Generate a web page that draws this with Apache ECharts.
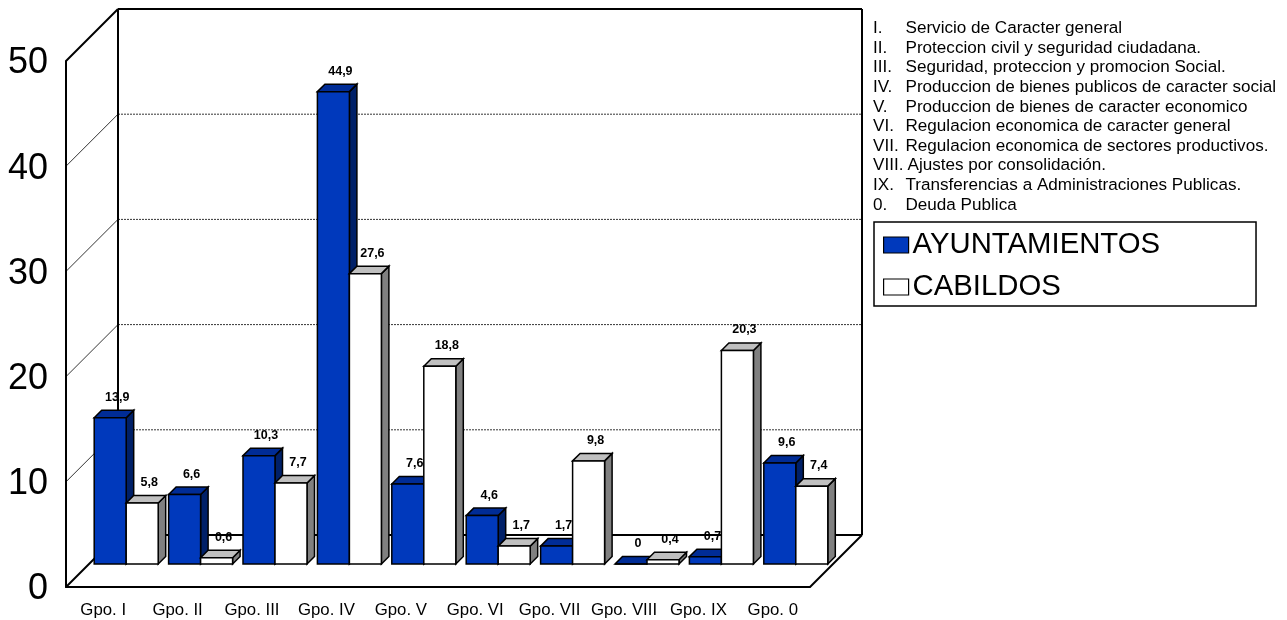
<!DOCTYPE html>
<html><head><meta charset="utf-8">
<style>html,body{margin:0;padding:0;background:#fff}#c{width:1287px;height:620px}</style>
<script src="https://cdn.jsdelivr.net/npm/echarts@6/dist/echarts.min.js"></script>
</head><body><div id="c"></div>
<script>
const categories = ['Gpo. I','Gpo. II','Gpo. III','Gpo. IV','Gpo. V','Gpo. VI','Gpo. VII','Gpo. VIII','Gpo. IX','Gpo. 0'];
const ayuntamientos = [13.9,6.6,10.3,44.9,7.6,4.6,1.7,0,0.7,9.6];
const cabildos = [5.8,0.6,7.7,27.6,18.8,1.7,9.8,0.4,20.3,7.4];
const yTicks = [0,10,20,30,40,50];
const numerals = ['I.','II.','III.','IV.','V.','VI.','VII.','VIII.','IX.','0.'];
const descriptions = [
  'Servicio de Caracter general',
  'Proteccion civil y seguridad ciudadana.',
  'Seguridad, proteccion y promocion Social.',
  'Produccion de bienes publicos de caracter social',
  'Produccion de bienes de caracter economico',
  'Regulacion economica de caracter general',
  'Regulacion economica de sectores productivos.',
  'Ajustes por consolidación.',
  'Transferencias a Administraciones Publicas.',
  'Deuda Publica'
];
const FONT = '"Liberation Sans", Arial, sans-serif';
const WALL = 52, BAR_DEPTH = 23, TOP = 7.5, BAR_W = 32;

function poly(points, fill, lw) {
  return {type:'polygon', shape:{points}, style:{fill, stroke:'#000', lineWidth:lw, lineJoin:'miter'}};
}
function line(a, b, lw, dash) {
  return {type:'line', shape:{x1:a[0],y1:a[1],x2:b[0],y2:b[1]}, style:{stroke:'#000', lineWidth:lw, lineDash:dash||null, fill:null}};
}
function barRender(side, front, top, dark) {
  return function(params, api) {
    const idx = api.value(0), v = api.value(1);
    const p = api.coord([idx, v]), base = api.coord([idx, 0]);
    const cx = p[0] + BAR_DEPTH;
    const x0 = side === 0 ? cx - BAR_W : cx, x1 = x0 + BAR_W;
    const yT = p[1] - BAR_DEPTH, yB = base[1] - BAR_DEPTH;
    return {type:'group', children:[
      poly([[x1,yB],[x1+TOP,yB-TOP],[x1+TOP,yT-TOP],[x1,yT]], dark, 1.5),
      poly([[x0,yT],[x0+TOP,yT-TOP],[x1+TOP,yT-TOP],[x1,yT]], top, 1.5),
      poly([[x0,yT],[x1,yT],[x1,yB],[x0,yB]], front, 1.5),
      {type:'text', x:(x0+x1)/2+7, y:yT-20.5, style:{
        text:String(v).replace('.',','), fill:'#000', align:'center', verticalAlign:'middle',
        font:'bold 12.5px '+FONT}}
    ]};
  };
}
function wallRender(params, api) {
  const v = api.value(1);
  const cs = params.coordSys;
  const y = api.coord([0, v])[1];
  const L = cs.x, R = cs.x + cs.width;
  const children = [];
  const isEnd = v === yTicks[0] || v === yTicks[yTicks.length-1];
  children.push(line([L,y],[L+WALL,y-WALL], isEnd ? 2 : 0.8));
  children.push(line([L+WALL,y-WALL],[R+WALL,y-WALL], isEnd ? 2 : 0.8, isEnd ? null : [2,1]));
  if (v === yTicks[0]) {
    children.push(line([R,y],[R+WALL,y-WALL], 2));
    children.push(line([L+WALL,y-WALL],[L+WALL,cs.y-WALL], 2));
    children.push(line([R+WALL,y-WALL],[R+WALL,cs.y-WALL], 2));
  }
  children.push({type:'text', x:L-18, y:y+2.5, style:{text:String(v), fill:'#000', align:'right', verticalAlign:'middle', font:'36px '+FONT}});
  return {type:'group', children};
}

const listGraphics = [];
numerals.forEach((n,i) => {
  const y = 28.5 + i*19.6;
  listGraphics.push({type:'text', x:873, y:y, style:{text:n, fill:'#000', verticalAlign:'middle', font:'17.1px '+FONT}});
  listGraphics.push({type:'text', x:n.length>4 ? 907.5 : 905.5, y:y, style:{text:descriptions[i], fill:'#000', verticalAlign:'middle', font:'17.1px '+FONT}});
});

const chart = echarts.init(document.getElementById('c'));
chart.setOption({
  animation:false,
  backgroundColor:'#fff',
  grid:{left:66, top:61, width:744, height:526, containLabel:false},
  xAxis:{type:'category', data:categories, boundaryGap:true,
    axisTick:{show:false},
    axisLine:{show:true, lineStyle:{color:'#000', width:2}},
    axisLabel:{color:'#000', fontFamily:'Liberation Sans', fontSize:16.8, margin:15, interval:0},
    splitLine:{show:false}},
  yAxis:{type:'value', min:0, max:50, interval:10,
    axisTick:{show:false},
    axisLine:{show:true, lineStyle:{color:'#000', width:2}},
    axisLabel:{show:false},
    splitLine:{show:false}},
  legend:{orient:'vertical', left:874, top:222, padding:[6,96,2,9], itemGap:8,
    borderColor:'#000', borderWidth:1.5, backgroundColor:'#fff',
    itemWidth:25, itemHeight:16, icon:'rect',
    textStyle:{color:'#000', fontFamily:'Liberation Sans', fontSize:29.3, lineHeight:34, padding:[0,0,0,-1]},
    data:[
      {name:'AYUNTAMIENTOS', itemStyle:{color:'#0039BC', borderColor:'#000', borderWidth:1.2}},
      {name:'CABILDOS', itemStyle:{color:'#fff', borderColor:'#000', borderWidth:1.2}}
    ]},
  graphic:listGraphics,
  series:[
    {type:'custom', name:'walls', silent:true, z:1, renderItem:wallRender,
      encode:{x:0,y:1}, data:yTicks.map(v=>[0,v])},
    {type:'custom', name:'AYUNTAMIENTOS', z:2, itemStyle:{color:'#0039BC'},
      renderItem:barRender(0,'#0039BC','#002C96','#002068'),
      encode:{x:0,y:1}, data:ayuntamientos.map((v,i)=>[i,v])},
    {type:'custom', name:'CABILDOS', z:3, itemStyle:{color:'#fff'},
      renderItem:barRender(1,'#ffffff','#C0C0C0','#808080'),
      encode:{x:0,y:1}, data:cabildos.map((v,i)=>[i,v])}
  ]
});
</script></body></html>
